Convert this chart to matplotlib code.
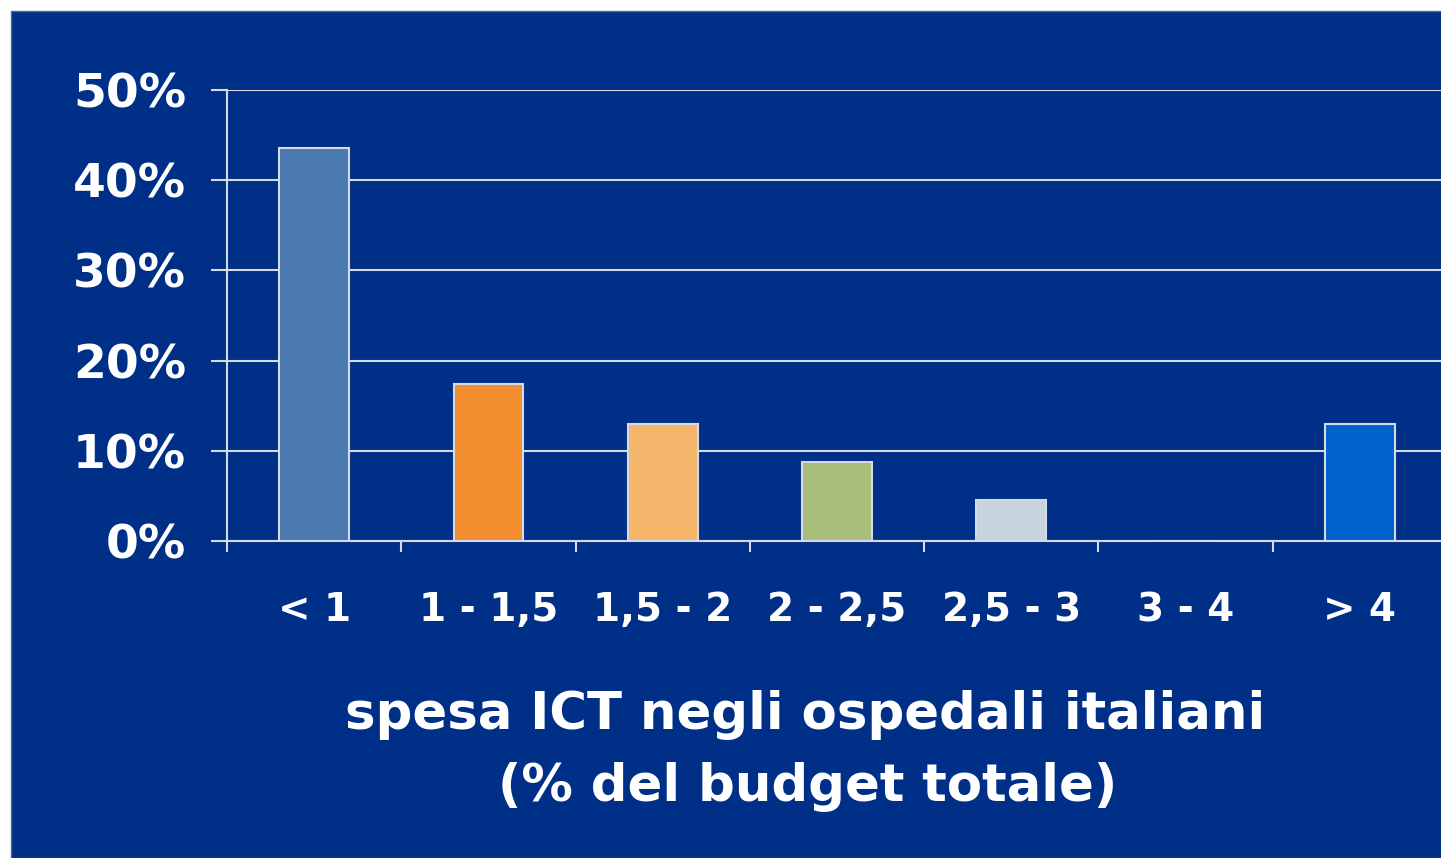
import matplotlib
matplotlib.use("Agg")
import matplotlib.pyplot as plt
from matplotlib.patches import Rectangle
from matplotlib.ticker import FixedLocator

# Dati
categorie = ["< 1", "1 - 1,5", "1,5 - 2", "2 - 2,5", "2,5 - 3", "3 - 4", "> 4"]
valori = [43.6, 17.4, 13.0, 8.8, 4.5, 0.0, 13.0]
colori = ["#4A7AB0", "#F28E30", "#F4B66A", "#A9BE7B", "#C8D3E0", "#0063CC", "#0063CC"]
etichette_y = ["0%", "10%", "20%", "30%", "40%", "50%"]
titolo_1 = "spesa ICT negli ospedali italiani"
titolo_2 = "(% del budget totale)"

sfondo = "#002F87"
linee = "#D5DAE6"

fig = plt.figure(figsize=(14.41, 8.58), dpi=100)
fig.patch.set_facecolor("white")
# pannello blu (lascia un piccolo bordo bianco in alto e a sinistra)
fig.patches.append(Rectangle((11 / 1441, 0), 1, 1 - 11 / 858,
                             transform=fig.transFigure, facecolor=sfondo,
                             edgecolor="#5060A0", linewidth=1, zorder=0))

ax = fig.add_axes([227 / 1441, 1 - 541 / 858, 1220 / 1441, 451 / 858])
ax.set_zorder(2)
ax.set_facecolor("none")

x = list(range(len(categorie)))
ax.bar(x, valori, width=0.4, color=colori, edgecolor=linee, linewidth=1.5, zorder=3)

ax.set_xlim(-0.5, len(categorie) - 0.5)
ax.set_ylim(0, 50)

ax.set_yticks([0, 10, 20, 30, 40, 50])
ax.set_yticklabels(etichette_y)
ax.set_xticks(x)
ax.set_xticklabels(categorie)
ax.xaxis.set_minor_locator(FixedLocator([i - 0.5 for i in range(len(categorie))]))

ax.yaxis.grid(True, color=linee, linewidth=1.5, zorder=1)
ax.set_axisbelow(True)

for s in ["top", "right"]:
    ax.spines[s].set_visible(False)
for s in ["left", "bottom"]:
    ax.spines[s].set_color(linee)
    ax.spines[s].set_linewidth(1.5)

ax.tick_params(axis="y", length=11.5, width=1.5, color=linee, pad=18,
               labelsize=34, labelcolor="white")
ax.tick_params(axis="x", which="major", length=0, pad=36,
               labelsize=28, labelcolor="white")
ax.tick_params(axis="x", which="minor", length=8, width=1.5, color=linee)
for lab in ax.get_xticklabels() + ax.get_yticklabels():
    lab.set_fontweight("bold")

fig.text(805 / 1441, 1 - 715 / 858, titolo_1, ha="center", va="center",
         color="white", fontsize=37, fontweight="bold", zorder=3)
fig.text(808 / 1441, 1 - 787 / 858, titolo_2, ha="center", va="center",
         color="white", fontsize=37, fontweight="bold", zorder=3)

fig.savefig("out.png", dpi=100, facecolor=fig.get_facecolor())
